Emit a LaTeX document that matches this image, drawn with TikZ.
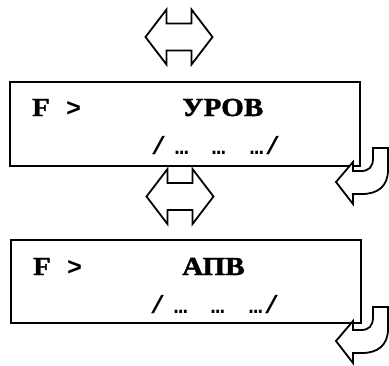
\documentclass[tikz,border=0pt]{standalone}
\usepackage{fontspec}
\usepackage{graphicx}
\newfontfamily\serb{Liberation Serif}[FakeBold=1.5]
\newfontfamily\monob{Liberation Mono}
\begin{document}
\begin{tikzpicture}[x=1pt,y=-1pt,
  boxline/.style={draw=black,line width=1.9pt,fill=white},
  arrowline/.style={draw=black,line width=1.8pt,fill=white,line join=miter},
  lcdtext/.style={anchor=base west,inner sep=0pt,font=\serb\bfseries\fontsize{26}{29}\selectfont},
  gttext/.style={anchor=base west,inner sep=0pt,font=\monob\bfseries\fontsize{25}{28}\selectfont},
  dottext/.style={anchor=base west,inner sep=0pt,font=\monob\bfseries\fontsize{25}{28}\selectfont}]
\useasboundingbox (0,0) rectangle (389,365);
\newcommand\dblarrow[2]{%
  \draw[arrowline,shift={(#1,#2)}] (-33.5,0) -- (-12.5,-27.5) -- (-12.5,-13.5) -- (12.5,-13.5) -- (12.5,-27.5) -- (33.5,0) -- (12.5,27.5) -- (12.5,13.5) -- (-12.5,13.5) -- (-12.5,27.5) -- cycle;}
\newcommand\retarrow[1]{%
  \draw[arrowline,shift={(0,#1)}] (373,0) -- (373,10) .. controls (373,19) and (369,23) .. (361,23) -- (353,23) -- (353,14) -- (336,34) -- (353,56) -- (353,46) -- (362,46) .. controls (378,46) and (388,38) .. (388,22) -- (388,0) -- cycle;}
\newcommand\smdots{\rlap{\fontsize{22}{24}\selectfont …}}
\newcommand\dotsline{\rlap{/}\hspace*{24pt}\smdots\hspace*{37pt}\smdots\hspace*{38pt}\smdots\hspace*{15pt}/}
% top double arrow
\dblarrow{179}{37}
% second double arrow (behind box 1)
\dblarrow{180}{196.5}
% box 1
\node[boxline,minimum width=350pt,minimum height=84pt,anchor=north west,inner sep=0pt] (box1) at (9,81) {};
\node[lcdtext] (f1) at (32,116) {\scalebox{1.1}[1]{F}};
\node[gttext] (g1) at (66,116) {>};
\node[lcdtext] (t1) at (182,116) {\scalebox{1.12}[1]{УРОВ}};
\node[dottext] (d1) at (151,154) {\dotsline};
\retarrow{148}
% box 2
\node[boxline,minimum width=350pt,minimum height=83pt,anchor=north west,inner sep=0pt] (box2) at (10,239) {};
\node[lcdtext] (f2) at (33,275) {\scalebox{1.1}[1]{F}};
\node[gttext] (g2) at (67,275) {>};
\node[lcdtext] (t2) at (182,275) {\scalebox{1.12}[1]{АПВ}};
\node[dottext] (d2) at (150,313) {\dotsline};
\retarrow{307}
\end{tikzpicture}
\end{document}
